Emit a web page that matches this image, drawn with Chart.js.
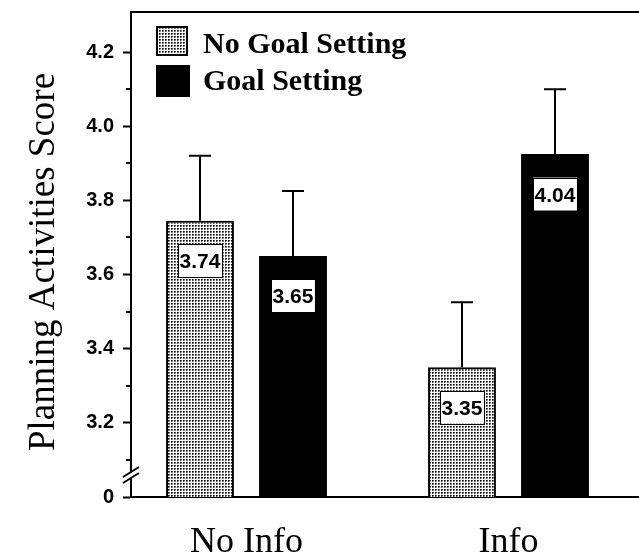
<!DOCTYPE html>
<html><head><meta charset="utf-8">
<script src="https://cdn.jsdelivr.net/npm/chart.js@4.4.0/dist/chart.umd.min.js"></script>
<style>html,body{margin:0;padding:0;background:#fff;overflow:hidden}#wrap{width:639px;height:560px;position:relative}</style>
</head><body><div id="wrap"><canvas id="c" width="639" height="560"></canvas></div>
<script>
const categories = ['No Info', 'Info'];
const seriesNames = ['No Goal Setting', 'Goal Setting'];
const noGoalValues = [3.745, 3.35];
const goalValues = [3.65, 3.925];
const noGoalErrors = [0.175, 0.175];
const goalErrors = [0.175, 0.175];
const noGoalLabels = ['3.74', '3.35'];
const goalLabels = ['3.65', '4.04'];
const yAxisTitle = 'Planning Activities Score';
const yMajorTicks = [3.0, 3.2, 3.4, 3.6, 3.8, 4.0, 4.2];
const yMinorTicks = [3.1, 3.3, 3.5, 3.7, 3.9, 4.1];
const yTickText = ['0', '3.2', '3.4', '3.6', '3.8', '4.0', '4.2'];

// stipple pattern
const pc = document.createElement('canvas');
pc.width = 3; pc.height = 3;
const pctx = pc.getContext('2d');
pctx.fillStyle = '#fff'; pctx.fillRect(0,0,3,3);
pctx.fillStyle = '#000'; pctx.fillRect(0,0,1,1);
pctx.fillStyle = '#555'; pctx.fillRect(1,0,1,1); pctx.fillRect(0,1,1,1);
pctx.fillStyle = '#999'; pctx.fillRect(1,1,1,1);
const ctx0 = document.getElementById('c').getContext('2d');
const stipple = ctx0.createPattern(pc, 'repeat');

const errorsBySet = [noGoalErrors, goalErrors];
const labelsBySet = [noGoalLabels, goalLabels];

const zeroPad = s => { s.paddingLeft = 0; s.paddingRight = 0; s.paddingTop = 0; s.paddingBottom = 0; };

const extras = {
  id: 'extras',
  afterDatasetsDraw(chart) {
    const ctx = chart.ctx;
    const ys = chart.scales.y;
    ctx.save();
    chart.data.datasets.forEach((ds, di) => {
      const meta = chart.getDatasetMeta(di);
      meta.data.forEach((el, i) => {
        const v = ds.data[i].y;
        const yErr = ys.getPixelForValue(v + errorsBySet[di][i]);
        ctx.strokeStyle = '#000'; ctx.lineWidth = 2;
        ctx.beginPath();
        ctx.moveTo(el.x, el.y); ctx.lineTo(el.x, yErr);
        ctx.moveTo(el.x - 11, yErr); ctx.lineTo(el.x + 11, yErr);
        ctx.stroke();
      });
    });
    ctx.font = 'bold 21px "Liberation Sans", Arial, sans-serif';
    chart.data.datasets.forEach((ds, di) => {
      const meta = chart.getDatasetMeta(di);
      meta.data.forEach((el, i) => {
        const t = labelsBySet[di][i];
        const w = ctx.measureText(t).width + 3;
        const h = 33;
        const cy = el.y + 40;
        ctx.fillStyle = '#fff';
        ctx.fillRect(el.x - w/2, cy - h/2, w, h);
        ctx.strokeStyle = '#000'; ctx.lineWidth = 1;
        ctx.strokeRect(Math.round(el.x - w/2) + 0.5, Math.round(cy - h/2) + 0.5, Math.round(w), h);
        ctx.fillStyle = '#000';
        ctx.textAlign = 'center'; ctx.textBaseline = 'alphabetic';
        ctx.fillText(t, el.x, cy + 7.5);
      });
    });
    ctx.restore();
  },
  afterDraw(chart) {
    const ctx = chart.ctx;
    const ca = chart.chartArea;
    const ys = chart.scales.y;
    ctx.save();
    ctx.strokeStyle = '#000'; ctx.lineWidth = 2;
    ctx.beginPath(); ctx.moveTo(ca.left - 1, ca.top); ctx.lineTo(ca.right, ca.top); ctx.stroke();
    ctx.beginPath();
    yMinorTicks.forEach(v => {
      const y = Math.round(ys.getPixelForValue(v));
      ctx.moveTo(ca.left - 5, y); ctx.lineTo(ca.left, y);
    });
    ctx.stroke();
    const x = ca.left, yb = ca.bottom - 21;
    ctx.fillStyle = '#fff';
    ctx.beginPath();
    ctx.moveTo(x - 8, yb + 1); ctx.lineTo(x + 8, yb - 9); ctx.lineTo(x + 8, yb - 3); ctx.lineTo(x - 8, yb + 7);
    ctx.closePath(); ctx.fill();
    ctx.lineWidth = 2;
    ctx.beginPath();
    ctx.moveTo(x - 8, yb + 1); ctx.lineTo(x + 8, yb - 9);
    ctx.moveTo(x - 8, yb + 7); ctx.lineTo(x + 8, yb - 3);
    ctx.stroke();
    const boxes = [{x:157, y:27, w:30, h:28}, {x:157, y:66, w:32, h:30}];
    const baselines = [53, 90];
    chart.data.datasets.forEach((ds, di) => {
      const b = boxes[di];
      ctx.fillStyle = ds.backgroundColor;
      ctx.fillRect(b.x, b.y, b.w, b.h);
      ctx.strokeStyle = '#000'; ctx.lineWidth = 2;
      ctx.strokeRect(b.x, b.y, b.w, b.h);
      ctx.fillStyle = '#000';
      ctx.font = 'bold 30px "Liberation Serif", "Times New Roman", serif';
      ctx.textAlign = 'left'; ctx.textBaseline = 'alphabetic';
      ctx.fillText(ds.label, 203, baselines[di]);
    });
    ctx.translate(44, 262);
    ctx.rotate(-Math.PI / 2);
    ctx.font = '37px "Liberation Serif", "Times New Roman", serif';
    ctx.textAlign = 'center'; ctx.textBaseline = 'middle';
    ctx.fillStyle = '#000';
    ctx.fillText(yAxisTitle, 0, 0);
    ctx.restore();
  }
};

new Chart(ctx0, {
  type: 'bar',
  data: {
    datasets: [
      { label: seriesNames[0], data: noGoalValues.map((v, i) => ({x: i, y: v})),
        backgroundColor: stipple, borderColor: '#000', borderWidth: 2,
        categoryPercentage: 0.71, barPercentage: 0.73 },
      { label: seriesNames[1], data: goalValues.map((v, i) => ({x: i, y: v})),
        backgroundColor: '#000', borderColor: '#000', borderWidth: 0,
        categoryPercentage: 0.71, barPercentage: 0.73 }
    ]
  },
  options: {
    responsive: false, animation: false, devicePixelRatio: 1,
    layout: { padding: { top: 12, left: 0, right: 0, bottom: 0 } },
    plugins: { legend: { display: false }, tooltip: { enabled: false } },
    scales: {
      x: {
        type: 'linear', min: -0.4408, max: 1.4981, offset: false,
        grid: { display: false, drawTicks: false, offset: false },
        border: { display: true, color: '#000', width: 2 },
        afterBuildTicks: s => { s.ticks = categories.map((c, i) => ({value: i})); },
        ticks: { callback: v => categories[v], font: { family: '"Liberation Serif", serif', size: 36 },
                 color: '#000', padding: 24, maxRotation: 0, autoSkip: false },
        afterFit: s => { s.height = 63; zeroPad(s); }
      },
      y: {
        min: 3.0, max: 4.308,
        grid: { drawOnChartArea: false, tickLength: 8, tickWidth: 2, tickColor: '#000' },
        border: { color: '#000', width: 2 },
        afterBuildTicks: s => { s.ticks = yMajorTicks.map(v => ({value: v})); },
        ticks: { callback: (v, i) => yTickText[i], font: { family: '"Liberation Sans", Arial, sans-serif', weight: 'bold', size: 20 },
                 color: '#000', padding: 9 },
        afterFit: s => { s.width = 131; zeroPad(s); }
      }
    }
  },
  plugins: [extras]
});
</script></body></html>
